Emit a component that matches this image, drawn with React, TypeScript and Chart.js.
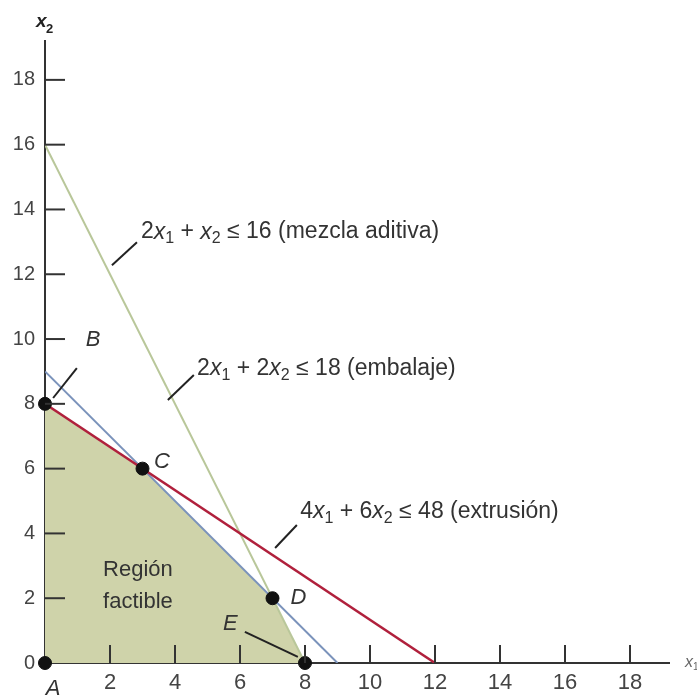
import React, { useEffect, useRef } from 'react';
import { Chart, registerables } from 'chart.js';
Chart.register(...registerables);

// ---------- data ----------
const xTickValues = [2, 4, 6, 8, 10, 12, 14, 16, 18];
const yTickValues = [0, 2, 4, 6, 8, 10, 12, 14, 16, 18];
const feasibleRegion = [
  { x: 0, y: 0 },
  { x: 0, y: 8 },
  { x: 3, y: 6 },
  { x: 7, y: 2 },
  { x: 8, y: 0 },
];
const mezclaLine = [{ x: 0, y: 16 }, { x: 8, y: 0 }];
const embalajeLine = [{ x: 0, y: 9 }, { x: 9, y: 0 }];
const extrusionLine = [{ x: 0, y: 8 }, { x: 12, y: 0 }];
const cornerPoints = [
  { x: 0, y: 0 },
  { x: 0, y: 8 },
  { x: 3, y: 6 },
  { x: 7, y: 2 },
  { x: 8, y: 0 },
];
const cornerLabels = ['A', 'B', 'C', 'D', 'E'];

type Seg = [string, 'n' | 'i' | 's'];
const mezclaText: Seg[] = [['2', 'n'], ['x', 'i'], ['1', 's'], [' + ', 'n'], ['x', 'i'], ['2', 's'], [' ≤ 16 (mezcla aditiva)', 'n']];
const embalajeText: Seg[] = [['2', 'n'], ['x', 'i'], ['1', 's'], [' + 2', 'n'], ['x', 'i'], ['2', 's'], [' ≤ 18 (embalaje)', 'n']];
const extrusionText: Seg[] = [['4', 'n'], ['x', 'i'], ['1', 's'], [' + 6', 'n'], ['x', 'i'], ['2', 's'], [' ≤ 48 (extrusión)', 'n']];
const regionText = ['Región', 'factible'];

const FONT = '"Liberation Sans", Arial, sans-serif';
const TEXT_COLOR = '#333';

function drawRich(ctx: CanvasRenderingContext2D, segs: Seg[], x: number, y: number, size: number) {
  ctx.save();
  ctx.textBaseline = 'middle';
  ctx.textAlign = 'left';
  ctx.fillStyle = TEXT_COLOR;
  let cx = x;
  for (const [t, st] of segs) {
    if (st === 's') {
      ctx.font = `${Math.round(size * 0.68)}px ${FONT}`;
      ctx.fillText(t, cx, y + size * 0.3);
    } else if (st === 'i') {
      ctx.font = `italic ${size}px ${FONT}`;
      ctx.fillText(t, cx, y);
    } else {
      ctx.font = `${size}px ${FONT}`;
      ctx.fillText(t, cx, y);
    }
    cx += ctx.measureText(t).width;
  }
  ctx.restore();
}

const overlayPlugin = {
  id: 'overlay',
  afterDatasetsDraw(chart: any) {
    const ctx: CanvasRenderingContext2D = chart.ctx;
    const xs = chart.scales.x;
    const ys = chart.scales.y;
    const X = (v: number) => xs.getPixelForValue(v);
    const Y = (v: number) => ys.getPixelForValue(v);
    const x0 = X(0);
    const y0 = Y(0);

    ctx.save();
    // inner tick marks
    ctx.strokeStyle = '#333';
    ctx.lineWidth = 2;
    for (const v of yTickValues) {
      if (v === 0) continue;
      ctx.beginPath();
      ctx.moveTo(x0, Y(v));
      ctx.lineTo(x0 + 20, Y(v));
      ctx.stroke();
    }
    for (const v of xTickValues) {
      ctx.beginPath();
      ctx.moveTo(X(v), y0);
      ctx.lineTo(X(v), y0 - 18);
      ctx.stroke();
    }

    // leader lines
    const leader = (a: number[], b: number[]) => {
      ctx.beginPath();
      ctx.moveTo(X(a[0]), Y(a[1]));
      ctx.lineTo(X(b[0]), Y(b[1]));
      ctx.stroke();
    };
    ctx.strokeStyle = '#222';
    ctx.lineWidth = 2;
    leader([2.06, 12.28], [2.83, 12.99]);
    leader([3.78, 8.12], [4.58, 8.89]);
    leader([7.08, 3.55], [7.75, 4.26]);
    leader([0.25, 8.18], [0.98, 9.1]);
    leader([6.15, 0.96], [7.78, 0.19]);

    // constraint annotations
    drawRich(ctx, mezclaText, X(2.95), Y(13.3), 23);
    drawRich(ctx, embalajeText, X(4.68), Y(9.1), 23);
    drawRich(ctx, extrusionText, X(7.85), Y(4.66), 23);

    // region text
    ctx.fillStyle = TEXT_COLOR;
    ctx.textAlign = 'center';
    ctx.textBaseline = 'middle';
    ctx.font = `22px ${FONT}`;
    ctx.fillText(regionText[0], X(2.86), Y(2.87));
    ctx.fillText(regionText[1], X(2.86), Y(1.88));

    // corner labels
    ctx.font = `italic 22px ${FONT}`;
    const labelPos = [
      [0.25, -0.8],
      [1.48, 9.97],
      [3.6, 6.2],
      [7.8, 2.0],
      [5.7, 1.2],
    ];
    cornerLabels.forEach((l, i) => {
      ctx.fillText(l, X(labelPos[i][0]), Y(labelPos[i][1]));
    });

    // axis titles
    ctx.textAlign = 'left';
    ctx.fillStyle = '#222';
    ctx.font = `bold italic 19px ${FONT}`;
    ctx.fillText('x', x0 - 9, 22);
    ctx.font = `bold 13px ${FONT}`;
    ctx.fillText('2', x0 + 1, 29);
    ctx.fillStyle = '#666';
    ctx.font = `italic 16px ${FONT}`;
    ctx.fillText('x', X(19.2) + 16, y0);
    ctx.font = `10px ${FONT}`;
    ctx.fillText('1', X(19.2) + 24, y0 + 4);
    ctx.restore();
  },
};

export default function App() {
  const ref = useRef<HTMLCanvasElement>(null);
  useEffect(() => {
    if (!ref.current) return;
    const chart = new Chart(ref.current, {
      type: 'scatter',
      data: {
        datasets: [
          {
            data: cornerPoints,
            pointRadius: 6.5,
            pointBackgroundColor: '#111',
            pointBorderColor: '#111',
            showLine: false,
            clip: false,
          } as any,
          {
            data: extrusionLine,
            showLine: true,
            borderColor: '#b0203c',
            borderWidth: 2.5,
            pointRadius: 0,
          },
          {
            data: embalajeLine,
            showLine: true,
            borderColor: '#7b93bb',
            borderWidth: 2,
            pointRadius: 0,
          },
          {
            data: mezclaLine,
            showLine: true,
            borderColor: '#b9c79a',
            borderWidth: 2,
            pointRadius: 0,
          },
          {
            data: feasibleRegion,
            showLine: true,
            borderWidth: 0,
            borderColor: 'rgba(0,0,0,0)',
            backgroundColor: '#cfd3aa',
            fill: 'origin',
            pointRadius: 0,
          },
        ],
      },
      options: {
        animation: false,
        responsive: false,
        maintainAspectRatio: false,
        layout: { padding: { top: 41, right: 28, left: 0, bottom: 0 } },
        plugins: { legend: { display: false }, tooltip: { enabled: false } },
        scales: {
          x: {
            type: 'linear',
            min: 0,
            max: 19.2,
            grid: { display: false, drawTicks: false },
            border: { display: true, color: '#333', width: 2 },
            ticks: {
              stepSize: 2,
              includeBounds: false,
              autoSkip: false,
              maxRotation: 0,
              padding: 7,
              color: '#444',
              font: { family: FONT, size: 22 },
              callback: (v: any) => (xTickValues.includes(v) ? String(v) : ''),
            },
            afterFit: (s: any) => {
              s.height = 32;
            },
          },
          y: {
            type: 'linear',
            min: 0,
            max: 19.2,
            grid: { display: false, drawTicks: false },
            border: { display: true, color: '#333', width: 2 },
            ticks: {
              stepSize: 2,
              includeBounds: false,
              autoSkip: false,
              padding: 10,
              color: '#444',
              font: { family: FONT, size: 20 },
              callback: (v: any) => (yTickValues.includes(v) ? String(v) : ''),
            },
            afterFit: (s: any) => {
              s.width = 45;
            },
          },
        },
      },
      plugins: [overlayPlugin],
    });
    return () => chart.destroy();
  }, []);
  return (
    <div style={{ position: 'fixed', left: 0, top: 0, width: 697, height: 695, background: '#fff' }}>
      <canvas ref={ref} width={697} height={695} />
    </div>
  );
}
